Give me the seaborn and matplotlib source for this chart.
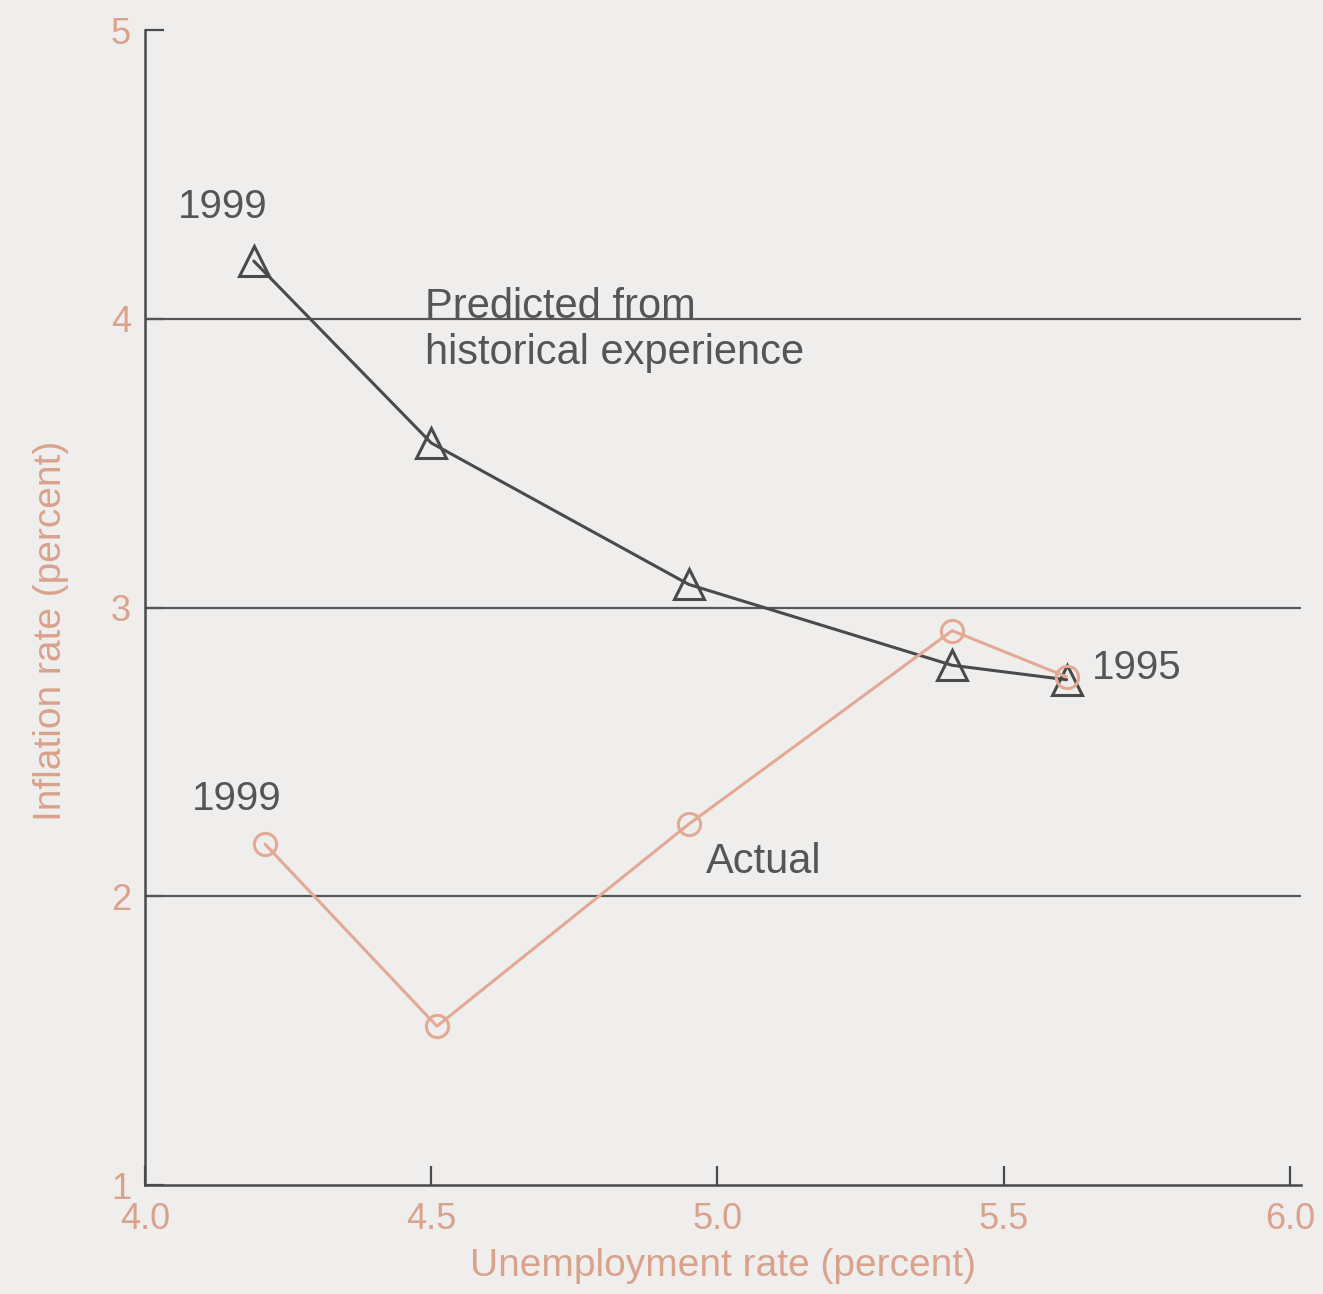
import pandas as pd
import matplotlib.pyplot as plt
import seaborn as sns

# data (1995 -> 1999)
unemp = [5.61, 5.41, 4.95, 4.50, 4.19]
predicted = [2.75, 2.80, 3.08, 3.57, 4.20]
unemp_actual = [5.61, 5.41, 4.95, 4.51, 4.21]
actual = [2.76, 2.92, 2.25, 1.55, 2.18]

x_ticks = [4.0, 4.5, 5.0, 5.5, 6.0]
y_ticks = [1, 2, 3, 4, 5]

sns.set_theme(style='white')
plt.rcParams['font.family'] = ['Liberation Sans', 'DejaVu Sans']

bg = '#efeeec'
dark = '#4a4a4a'
peach = '#e3a994'
label_col = '#d9a28c'

fig = plt.figure(figsize=(13.23, 12.94), dpi=100, facecolor=bg)
ax = fig.add_axes([0.1096, 0.0842, 0.874, 0.8926], facecolor=bg)

df_pred = pd.DataFrame({'u': unemp, 'inf': predicted})
df_act = pd.DataFrame({'u': unemp_actual, 'inf': actual})

for yv in [2, 3, 4]:
    ax.axhline(yv, color='#555555', lw=1.6, zorder=1)

sns.lineplot(data=df_pred, x='u', y='inf', ax=ax, color=dark, lw=2.2,
             marker='^', markersize=22, markerfacecolor='none',
             markeredgecolor=dark, markeredgewidth=2.2, sort=False, zorder=3)
sns.lineplot(data=df_act, x='u', y='inf', ax=ax, color=peach, lw=2.2,
             marker='o', markersize=16, markerfacecolor='none',
             markeredgecolor=peach, markeredgewidth=2.2, sort=False, zorder=4)

ax.set_xlim(4.0, 6.02)
ax.set_ylim(1, 5)
ax.set_xticks(x_ticks)
ax.set_yticks(y_ticks)
ax.set_xticklabels(['4.0', '4.5', '5.0', '5.5', '6.0'])
ax.set_yticklabels(['1', '2', '3', '4', '5'])
ax.tick_params(bottom=True, left=True, direction='in', length=14, width=1.6,
               color=dark, labelsize=26, labelcolor=label_col, pad=10)
ax.tick_params(axis='x', pad=12)

for s in ['top', 'right']:
    ax.spines[s].set_visible(False)
for s in ['left', 'bottom']:
    ax.spines[s].set_color(dark)
    ax.spines[s].set_linewidth(1.8)

ax.set_xlabel('Unemployment rate (percent)', fontsize=28, color=label_col, labelpad=8)
ax.set_ylabel('Inflation rate (percent)', fontsize=28, color=label_col)
ax.yaxis.set_label_coords(-0.066, 0.48)

txt = '#555555'
ax.text(4.135, 4.32, '1999', fontsize=29, color=txt, ha='center', va='bottom')
ax.text(4.16, 2.27, '1999', fontsize=29, color=txt, ha='center', va='bottom')
ax.text(5.655, 2.79, '1995', fontsize=29, color=txt, ha='left', va='center')
ax.text(4.49, 4.11, 'Predicted from\nhistorical experience', fontsize=30,
        color=txt, ha='left', va='top', linespacing=1.2)
ax.text(4.98, 2.12, 'Actual', fontsize=30, color=txt, ha='left', va='center')

fig.savefig('out.png', dpi=100, facecolor=bg)
